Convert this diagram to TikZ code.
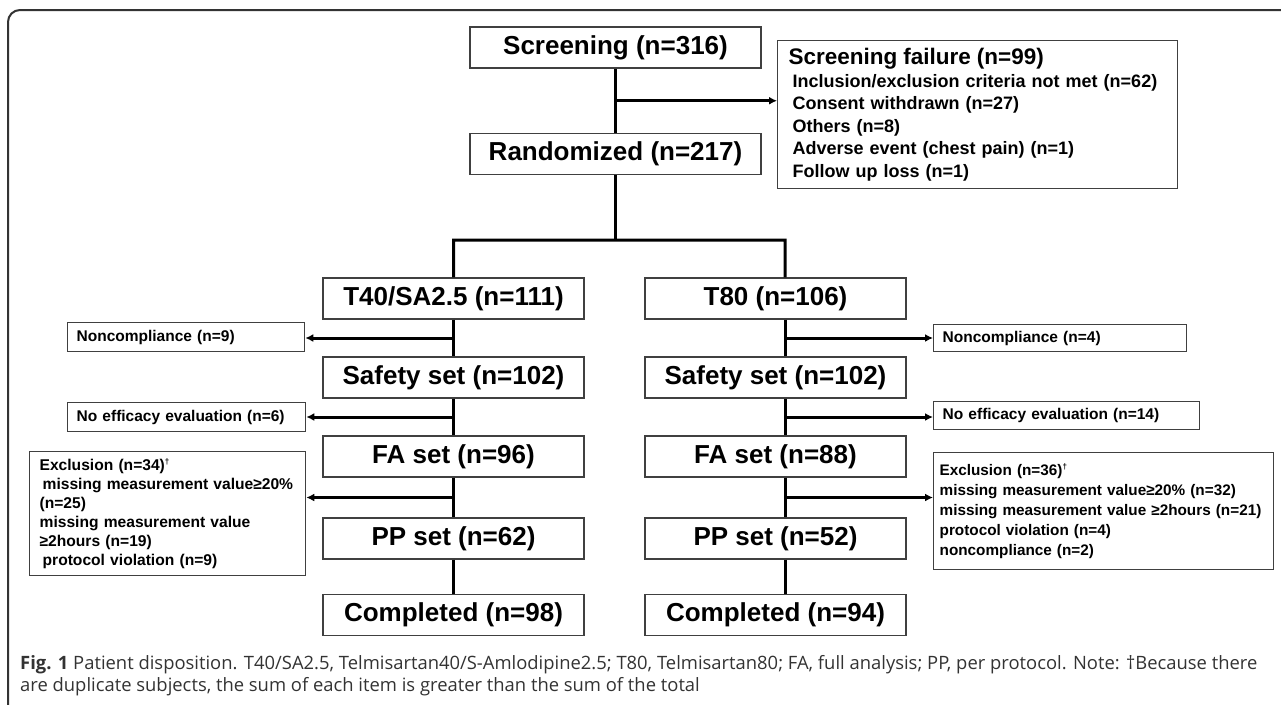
\documentclass[tikz,border=0pt]{standalone}
\usepackage{fontspec}
\setmainfont{Liberation Sans}
\newfontfamily\capfont{Open Sans}
\usetikzlibrary{arrows.meta,calc}
\begin{document}
\begin{tikzpicture}[x=1pt,y=-1pt,
  mainbox/.style={draw=black!75, line width=1.3pt, minimum width=261pt, minimum height=41pt, inner sep=0pt, font=\fontsize{26}{30}\selectfont\bfseries},
  sidebox/.style={draw=black!75, line width=1.3pt, inner xsep=9pt, inner ysep=0pt, anchor=north west, align=left, font=\fontsize{15.5}{19}\selectfont\bfseries},
  conn/.style={line width=3pt},
  arr/.style={line width=3pt, -{Latex[length=8pt,width=8pt]}},
  captext/.style={anchor=base west, inner sep=0pt, text=black!80, font=\capfont\fontsize{18.4}{22}\selectfont},
]
\useasboundingbox (0,0) rectangle (1281,704);
% frame
\draw[line width=2pt, black!80, rounded corners=12pt] (8,710) -- (8,10) -- (1290,10);

% top
\node[mainbox, minimum width=291pt] (scr) at (615.5,47.5) {Screening (n=316)};
\node[mainbox, minimum width=291pt] (rand) at (615.5,154) {Randomized (n=217)};
\node[sidebox, inner xsep=11pt, text width=378pt, minimum height=148pt, font=\fontsize{18}{22.6}\selectfont\bfseries] (sf) at (777,40)
 {{\fontsize{22.5}{22.6}\selectfont Screening failure (n=99)}\\
  \hspace{4pt}Inclusion/exclusion criteria not met (n=62)\\
  \hspace{4pt}Consent withdrawn (n=27)\\
  \hspace{4pt}Others (n=8)\\
  \hspace{4pt}Adverse event (chest pain) (n=1)\\
  \hspace{4pt}Follow up loss (n=1)};

% left column
\node[mainbox] (tl) at (453.5,298.5) {T40/SA2.5 (n=111)};
\node[mainbox] (sl) at (453.5,377.5) {Safety set (n=102)};
\node[mainbox] (fl) at (453.5,456.5) {FA set (n=96)};
\node[mainbox] (pl) at (453.5,538.5) {PP set (n=62)};
\node[mainbox] (cl) at (453.5,615) {Completed (n=98)};

% right column
\node[mainbox] (tr) at (775.5,298.5) {T80 (n=106)};
\node[mainbox] (sr) at (775.5,377.5) {Safety set (n=102)};
\node[mainbox] (fr) at (775.5,456.5) {FA set (n=88)};
\node[mainbox] (pr) at (775.5,538.5) {PP set (n=52)};
\node[mainbox] (cr) at (775.5,615) {Completed (n=94)};

% side boxes left
\node[sidebox, text width=219pt, minimum height=29pt] (nc9) at (67,322) {Noncompliance (n=9)};
\node[sidebox, text width=220pt, minimum height=29pt] (ne6) at (67,402) {No efficacy evaluation (n=6)};
\node[sidebox, inner xsep=10pt, text width=256pt, minimum height=124pt, font=\fontsize{15.6}{19}\selectfont\bfseries] (ex34) at (29,451)
 {Exclusion (n=34)\textsuperscript{\fontsize{8}{8}\selectfont†}\\
  \hspace{3pt}missing measurement value≥20\%\\
  (n=25)\\
  missing measurement value\\
  ≥2hours (n=19)\\
  \hspace{3pt}protocol violation (n=9)};

% side boxes right
\node[sidebox, text width=235pt, minimum height=27pt] (nc4) at (933,324) {Noncompliance (n=4)};
\node[sidebox, text width=248pt, minimum height=28pt] (ne14) at (933,401) {No efficacy evaluation (n=14)};
\node[sidebox, inner xsep=6pt, text width=328pt, minimum height=117pt, font=\fontsize{15.3}{20}\selectfont\bfseries] (ex36) at (933,452)
 {Exclusion (n=36)\textsuperscript{\fontsize{8}{8}\selectfont†}\\
  missing measurement value≥20\% (n=32)\\
  missing measurement value ≥2hours (n=21)\\
  protocol violation (n=4)\\
  noncompliance (n=2)};

% connectors top
\draw[conn] (scr.south) -- (rand.north);
\path ($(scr.south)!0.5!(rand.north)$) coordinate (m0);
\draw[arr] (m0) -- (m0 -| sf.west);
\coordinate (br) at ($(rand.south)+(0,65)$);
\coordinate (rx) at (785,240);
\draw[conn] (rand.south) -- (br);
\draw[conn] (tl.north) -- (tl.north |- br) -- (rx) -- (rx |- tr.north);

% left column connectors
\draw[conn] (tl.south) -- (sl.north);
\draw[conn] (sl.south) -- (fl.north);
\draw[conn] (fl.south) -- (pl.north);
\draw[conn] (pl.south) -- (cl.north);
\path ($(tl.south)!0.5!(sl.north)$) coordinate (ml1);
\path ($(sl.south)!0.5!(fl.north)$) coordinate (ml2);
\path ($(fl.south)!0.5!(pl.north)$) coordinate (ml3);
\draw[arr] (ml1) -- (ml1 -| nc9.east);
\draw[arr] (ml2) -- (ml2 -| ne6.east);
\draw[arr] (ml3) -- (ml3 -| ex34.east);

% right column connectors
\draw[conn] (rx |- tr.south) -- (rx |- sr.north);
\draw[conn] (rx |- sr.south) -- (rx |- fr.north);
\draw[conn] (rx |- fr.south) -- (rx |- pr.north);
\draw[conn] (rx |- pr.south) -- (rx |- cr.north);
\path (rx |- ml1) coordinate (mr1);
\path (rx |- ml2) coordinate (mr2);
\path (rx |- ml3) coordinate (mr3);
\draw[arr] (mr1) -- (mr1 -| nc4.west);
\draw[arr] (mr2) -- (mr2 -| ne14.west);
\draw[arr] (mr3) -- (mr3 -| ex36.west);

% caption
\node[captext] (cap1) at (20,669)
 {\textbf{Fig. 1} Patient disposition. T40/SA2.5, Telmisartan40/S-Amlodipine2.5; T80, Telmisartan80; FA, full analysis; PP, per protocol. Note: †Because there};
\node[captext] (cap2) at (20,691)
 {are duplicate subjects, the sum of each item is greater than the sum of the total};
\end{tikzpicture}
\end{document}
